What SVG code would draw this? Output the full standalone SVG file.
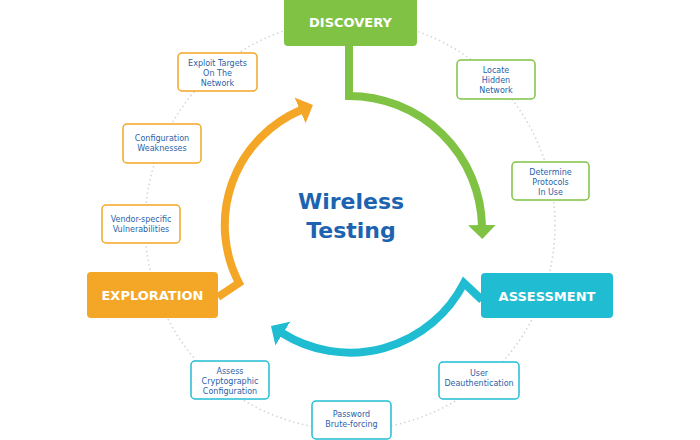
<svg xmlns="http://www.w3.org/2000/svg" width="700" height="440" viewBox="0 0 700 440">
<style>
.big{font-family:"DejaVu Sans",sans-serif;font-weight:bold;font-size:13px;fill:#fff;text-anchor:middle}
.sm{font-family:"DejaVu Sans",sans-serif;font-size:8px;fill:#2a62a8;text-anchor:middle}
.title{font-family:"DejaVu Sans",sans-serif;font-weight:bold;font-size:22px;fill:#1c63b0;text-anchor:middle}
.bg{fill:#fff;stroke-width:1.5}
.g{stroke:#7fc244}.t{stroke:#20bdd2}.o{stroke:#f4a626}
.arc{fill:none;stroke-width:8;stroke-linejoin:miter}
</style>
<defs>
<marker id="mg" viewBox="0 0 14 28" refX="1" refY="14" markerWidth="14" markerHeight="28" markerUnits="userSpaceOnUse" orient="auto"><path d="M0,0 L14,14 L0,28 z" fill="#7fc244"/></marker>
<marker id="mt" viewBox="0 0 14 28" refX="1" refY="14" markerWidth="14" markerHeight="28" markerUnits="userSpaceOnUse" orient="auto"><path d="M0,0 L14,14 L0,28 z" fill="#20bdd2"/></marker>
<marker id="mo" viewBox="0 0 14 28" refX="1" refY="14" markerWidth="14" markerHeight="28" markerUnits="userSpaceOnUse" orient="auto"><path d="M0,0 L14,14 L0,28 z" fill="#f4a626"/></marker>
</defs>
<rect width="700" height="440" fill="#fff"/>
<circle cx="350" cy="225" r="205" fill="none" stroke="#d4d4d4" stroke-width="1.5" stroke-dasharray="1.5 3"/>
<g id="connectors">
<path class="arc g" d="M349,46 V96 A133,133 0 0 1 482,226" marker-end="url(#mg)"/>
<path class="arc t" d="M482,300 L464,283 A128,128 0 0 1 282,333" marker-end="url(#mt)"/>
<path class="arc o" d="M218,297 L239,283 A125,125 0 0 1 301,110" marker-end="url(#mo)"/>
</g>
<g id="discovery"><rect x="284" y="-4" width="133" height="50" rx="4" fill="#7fc244"/><text class="big" x="350.5" y="27">DISCOVERY</text></g>
<g id="assessment"><rect x="481" y="273" width="132" height="45" rx="4" fill="#20bdd2"/><text class="big" x="547" y="300.5">ASSESSMENT</text></g>
<g id="exploration"><rect x="87" y="272" width="131" height="46" rx="4" fill="#f4a626"/><text class="big" x="152.5" y="300">EXPLORATION</text></g>
<g id="center"><text class="title" x="351" y="209">Wireless</text><text class="title" x="351" y="238">Testing</text></g>
<g id="locate"><rect class="bg g" x="457" y="60" width="78" height="39" rx="4"/><text class="sm" x="496" y="73">Locate</text><text class="sm" x="496" y="83">Hidden</text><text class="sm" x="496" y="93">Network</text></g>
<g id="determine"><rect class="bg g" x="512" y="162" width="77" height="38" rx="4"/><text class="sm" x="550.5" y="174.5">Determine</text><text class="sm" x="550.5" y="184.5">Protocols</text><text class="sm" x="550.5" y="194.5">In Use</text></g>
<g id="exploit"><rect class="bg o" x="178" y="53" width="79" height="38" rx="4"/><text class="sm" x="217.5" y="65.5">Exploit Targets</text><text class="sm" x="217.5" y="75.5">On The</text><text class="sm" x="217.5" y="85.5">Network</text></g>
<g id="config"><rect class="bg o" x="123" y="124" width="78" height="39" rx="4"/><text class="sm" x="162" y="141">Configuration</text><text class="sm" x="162" y="151">Weaknesses</text></g>
<g id="vendor"><rect class="bg o" x="102" y="205" width="78" height="38" rx="4"/><text class="sm" x="141" y="222">Vendor-specific</text><text class="sm" x="141" y="232">Vulnerabilities</text></g>
<g id="assess"><rect class="bg t" x="191" y="361" width="78" height="38" rx="4"/><text class="sm" x="230" y="373.5">Assess</text><text class="sm" x="230" y="383.5">Cryptographic</text><text class="sm" x="230" y="393.5">Configuration</text></g>
<g id="password"><rect class="bg t" x="312" y="401" width="79" height="38" rx="4"/><text class="sm" x="351.5" y="417">Password</text><text class="sm" x="351.5" y="427">Brute-forcing</text></g>
<g id="user"><rect class="bg t" x="439" y="362" width="80" height="37" rx="4"/><text class="sm" x="479" y="376">User</text><text class="sm" x="479" y="386">Deauthentication</text></g>
</svg>
